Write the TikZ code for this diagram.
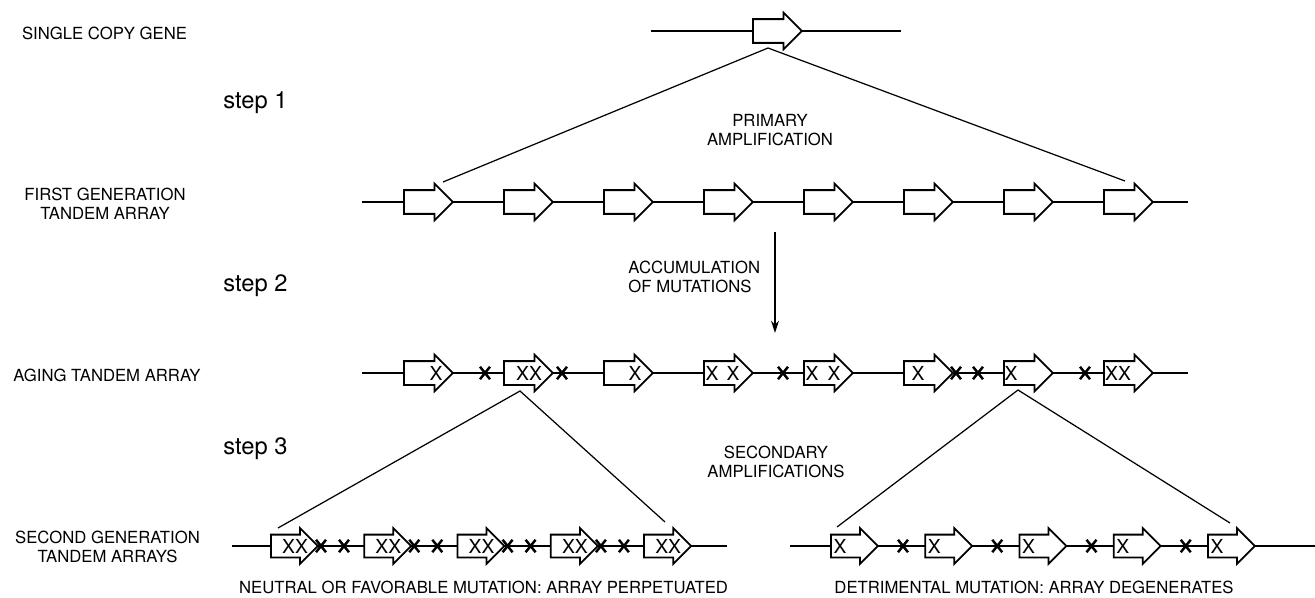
\documentclass[tikz,border=0pt]{standalone}
\usepackage{fontspec}
\setmainfont{TeX Gyre Heros}
\usetikzlibrary{arrows, arrows.meta, positioning, shapes.arrows, shapes.misc}

\begin{document}
\begin{tikzpicture}[x=0.02cm, y=-0.02cm, >={Stealth[length=7pt,width=4.5pt]}, line width=0.7pt,
	gene/.style={draw, fill=white, single arrow, anchor=tail, single arrow head extend=0.13cm, single arrow tip angle=90, minimum height=0.98cm, inner xsep=0pt, inner ysep=0.22cm, line width=1pt},
	short/.style={minimum height=0.94cm, inner ysep=0.21cm},
	mut/.style={inner sep=0pt, font=\fontsize{11}{12}\selectfont},
	hit/.style={cross out, draw, minimum width=0.15cm, minimum height=0.2cm, inner sep=0pt, line width=1.4pt},
	lbl/.style={align=center, font=\fontsize{9.5}{10.8}\selectfont},
	steplbl/.style={anchor=west, font=\fontsize{13.5}{15}\selectfont}]

	\useasboundingbox (0,0) rectangle (1315,598);

	% single copy gene
	\node [lbl] (Gt) at (104.5,33) {SINGLE COPY GENE};
	\coordinate (GA) at (651,31);
	\coordinate (GB) at (901,31);
	\draw (GA) -- (GB);
	\node [gene] (G) at (752,31) {};

	% step 1
	\node [steplbl] (S1) at (217,103) {step 1};
	\coordinate (P0) at (768,48);
	\coordinate (P1) at (443,182);
	\coordinate (P2) at (1125,181);
	\draw (P1) -- (P0) -- (P2);
	\node [lbl] (PA) at (770,130) {PRIMARY\\AMPLIFICATION};

	% first generation
	\node [lbl] (Ft) at (105,203.5) {FIRST GENERATION\\TANDEM ARRAY};
	\coordinate (FA) at (362,202);
	\coordinate (FB) at (1188,202);
	\draw (FA) -- (FB);
	\foreach \i in {1,...,8}
		\node [gene] (F\i) at ({303+100*\i},202) {};

	% step 2
	\node [steplbl] (S2) at (217,286) {step 2};
	\node [lbl, align=left, anchor=west] (AM) at (622,276.5) {ACCUMULATION\\OF MUTATIONS};
	\coordinate (M0) at (775,232);
	\coordinate (M1) at (775,333);
	\draw [->] (M0) -- (M1);

	% aging array
	\node [lbl] (At) at (107,375) {AGING TANDEM ARRAY};
	\coordinate (AA) at (362,373);
	\coordinate (AB) at (1188,373);
	\draw (AA) -- (AB);
	\foreach \i in {1,...,8}
		\node [gene] (A\i) at ({303+100*\i},373) {};
	\foreach \x/\t in {436/X, 529/XX, 635/X, 712/X, 733/X, 812/X, 834/X, 918/X, 1011/X, 1118/XX}
		\node [mut] (X\x) at (\x,373) {\t};
	\foreach \x in {485, 562, 783, 956, 978, 1085}
		\node [hit] (H\x) at (\x,373) {};

	% step 3
	\node [steplbl] (S3) at (217,449) {step 3};
	\coordinate (Q0) at (520,391);
	\coordinate (Q1) at (278,528);
	\coordinate (Q2) at (665,522);
	\coordinate (R0) at (1018,390);
	\coordinate (R1) at (837,527);
	\coordinate (R2) at (1230,523);
	\draw (Q1) -- (Q0) -- (Q2);
	\draw (R1) -- (R0) -- (R2);
	\node [lbl] (SA) at (776,462) {SECONDARY\\AMPLIFICATIONS};

	% second generation
	\node [lbl] (St) at (107.5,547) {SECOND GENERATION\\TANDEM ARRAYS};
	\coordinate (LA) at (232,546);
	\coordinate (LB) at (727,546);
	\draw (LA) -- (LB);
	\foreach \i in {0,...,4} {
		\node [gene, short] (L\i) at ({270+93.3*\i},546) {};
		\node [mut] (LX\i) at ({295+93.3*\i},546) {XX};
	}
	\foreach \i in {0,...,3} {
		\node [hit] (LH\i) at ({321+93.3*\i},546) {};
		\node [hit] (LK\i) at ({344+93.3*\i},546) {};
	}
	\coordinate (RA) at (790,546);
	\coordinate (RB) at (1315,546);
	\draw (RA) -- (RB);
	\foreach \i in {0,...,4} {
		\node [gene, short] (K\i) at ({830+94.25*\i},546) {};
		\node [mut] (KX\i) at ({840+94.25*\i},546) {X};
	}
	\foreach \i in {0,...,3}
		\node [hit] (KH\i) at ({903+94.25*\i},546) {};

	\node [lbl] (N1) at (483.5,587) {NEUTRAL OR FAVORABLE MUTATION: ARRAY PERPETUATED};
	\node [lbl] (N2) at (1034,587) {DETRIMENTAL MUTATION: ARRAY DEGENERATES};

\end{tikzpicture}
\end{document}
